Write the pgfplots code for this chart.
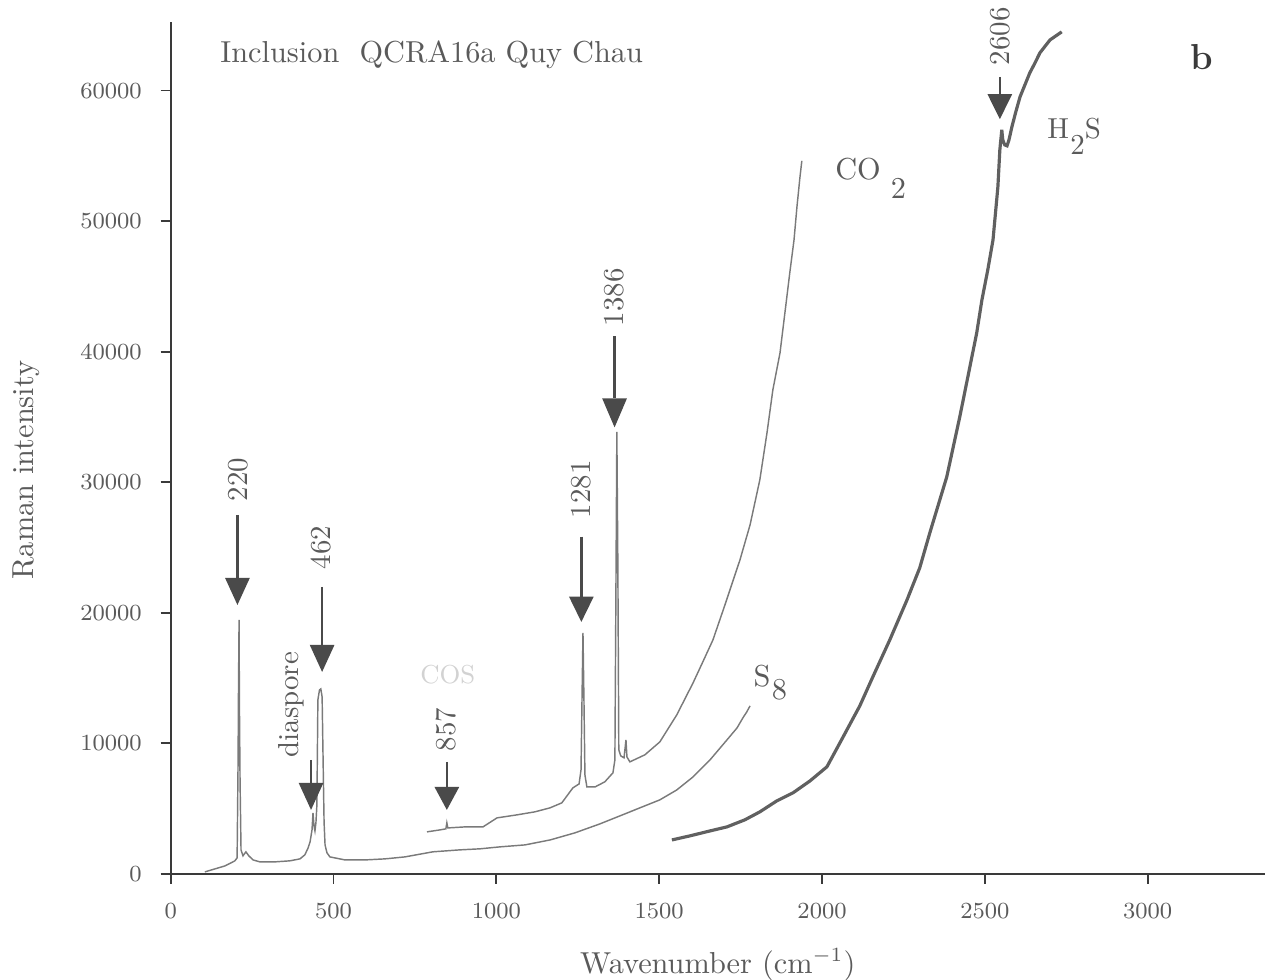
\documentclass[border=0pt]{standalone}
\usepackage{pgfplots}
\pgfplotsset{compat=1.18}
\definecolor{axcol}{HTML}{3A3A3A}
\definecolor{txtcol}{HTML}{5A5A5A}
\definecolor{speccol}{HTML}{7A7A7A}
\definecolor{h2scol}{HTML}{606060}
\definecolor{arrcol}{HTML}{4A4A4A}
\definecolor{coscol}{HTML}{D2D2D2}
\newcommand{\pkarrow}[4]{% x, line top, triangle base, tip
  \draw[arrcol, line width=0.8pt] (axis cs:#1,#2) -- (axis cs:#1,#3);
  \fill[arrcol] (axis cs:#1-38,#3) -- (axis cs:#1+38,#3) -- (axis cs:#1,#4) -- cycle;}
\begin{document}
\begin{tikzpicture}
\begin{axis}[
  name=ax,
  scale only axis,
  width=378.9pt, height=295pt,
  xmin=0, xmax=3360, ymin=0, ymax=65260,
  axis lines=left,
  axis line style={-, draw=axcol, line width=0.6pt},
  tick style={draw=axcol, line width=0.6pt},
  tick align=outside,
  major tick length=3.5pt,
  xtick={0,500,1000,1500,2000,2500,3000},
  ytick={0,10000,20000,30000,40000,50000,60000},
  scaled y ticks=false, scaled x ticks=false,
  /pgf/number format/.cd, 1000 sep={}, assume math mode=true,
  /pgfplots/.cd,
  tick label style={font=\footnotesize, text=txtcol},
  xticklabel style={yshift=-3pt},
  yticklabel style={xshift=-3pt},
  xlabel={Wavenumber (cm$^{-1}$)},
  ylabel={Raman intensity},
  xlabel style={font=\fontsize{10.5}{12}\selectfont, text=txtcol, at={(axis description cs:0.5,0)}, anchor=center, yshift=-31.5pt},
  ylabel style={font=\fontsize{10.5}{12}\selectfont, text=txtcol, at={(axis description cs:0,0.474)}, anchor=center, yshift=50pt},
  clip=false,
]
% low-range spectrum (220, diaspore, 462) continuing as S8 background
\addplot[color=speccol, line width=0.5pt] coordinates {
(105,153) (136,383) (167,613) (185,843) (197,996) (204,1226) (207,8730) (208,13330)
(210,19460) (211,13330) (213,7200) (216,1840) (222,1380) (231,1690) (240,1380)
(253,1070) (274,920) (320,920) (366,1000) (397,1150) (412,1460) (422,1990)
(428,2450) (434,3370) (437,4670) (440,3680) (443,3290) (446,3910) (449,5290)
(452,13330) (457,14090) (461,14170) (465,13560) (468,8730) (471,3980) (474,2220)
(480,1610) (489,1300) (535,1070) (597,1070) (658,1150) (719,1300) (805,1690)
(888,1840) (950,1920) (1011,2070) (1088,2220) (1165,2600) (1241,3140) (1318,3830)
(1379,4440) (1441,5060) (1502,5670) (1554,6430) (1604,7430) (1656,8730)
(1708,10260) (1739,11180) (1757,11950) (1769,12410) (1779,12870)
};
% CO2 region spectrum
\addplot[color=speccol, line width=0.5pt] coordinates {
(787,3220) (827,3370) (845,3450) (848,3910) (851,3520) (904,3600) (959,3600)
(1002,4290) (1063,4520) (1118,4750) (1165,5060) (1201,5440) (1235,6590)
(1254,6890) (1260,7970) (1263,13330) (1266,18460) (1269,13330) (1272,7580)
(1278,6660) (1303,6660) (1333,7050) (1358,7740) (1364,8730) (1367,20990)
(1370,33860) (1373,24050) (1376,9500) (1382,9040) (1392,8890) (1398,10260)
(1401,8960) (1410,8580) (1456,9120) (1502,10110) (1554,12180) (1604,14630)
(1634,16240) (1665,17920) (1702,20610) (1748,24050) (1779,26730) (1809,30180)
(1831,33780) (1849,37070) (1871,39910) (1886,42970) (1901,46040) (1914,48560)
(1923,51090) (1932,53310) (1938,54620)
};
% H2S region spectrum
\addplot[color=h2scol, line width=1.1pt] coordinates {
(1539,2600) (1594,2910) (1656,3290) (1708,3600) (1763,4140) (1809,4750)
(1861,5590) (1911,6210) (1963,7120) (2015,8200) (2055,10040) (2116,12870)
(2156,15090) (2208,17920) (2261,20990) (2300,23440) (2331,26120) (2383,30410)
(2423,35010) (2454,38840) (2475,41440) (2491,43970) (2509,46270) (2525,48560)
(2540,52620) (2546,55460) (2552,56990) (2555,56220) (2561,55840) (2568,55770)
(2574,56220) (2583,57220) (2595,58370) (2608,59520) (2623,60440) (2638,61360)
(2654,62120) (2669,62890) (2700,63880) (2736,64500)
};
% peak arrows
\pkarrow{205}{27500}{22670}{20600}
\pkarrow{465}{21980}{17540}{15470}
\pkarrow{431}{8730}{6970}{4900}
\pkarrow{848}{8580}{6660}{4900}
\pkarrow{1261}{25840}{21240}{19300}
\pkarrow{1363}{41170}{36420}{34200}
\pkarrow{2546}{61050}{59730}{57810}
% peak labels
\begin{scope}[every node/.style={text=txtcol, font=\fontsize{10}{12}\selectfont, rotate=90, anchor=west, inner sep=0pt}]
\node at (axis cs:207,28500) {220};
\node at (axis cs:463,23300) {462};
\node at (axis cs:370,8890) {diaspore};
\node at (axis cs:846,9350) {857};
\node at (axis cs:1261,27200) {1281};
\node at (axis cs:1363,41900) {1386};
\node at (axis cs:2546,61900) {2606};
\end{scope}
% species labels
\node[text=coscol, font=\fontsize{9}{11}\selectfont, anchor=center] at (axis cs:851,15240) {COS};
\node[text=txtcol, font=\fontsize{10.5}{12}\selectfont, anchor=base west, inner sep=0pt] at (axis cs:2039,53160) {CO\hspace{3.5pt}\raisebox{-6.5pt}{2}};
\node[text=txtcol, font=\fontsize{10.5}{12}\selectfont, anchor=base west, inner sep=0pt] at (axis cs:1788,14320) {S\hspace{0.5pt}\raisebox{-4.5pt}{8}};
\node[text=txtcol, font=\fontsize{10}{12}\selectfont, anchor=base west, inner sep=0pt] at (axis cs:2690,56300) {H\hspace{0.5pt}\raisebox{-5.5pt}{2}S};
\node[text=txtcol, font=\fontsize{10.5}{12}\selectfont, anchor=base west, inner sep=0pt] at (axis cs:151,62120) {Inclusion\ \ QCRA16a Quy Chau};
\node[text=axcol, font=\fontsize{12.5}{14}\selectfont\bfseries, anchor=base west, inner sep=0pt] at (axis cs:3130,61590) {b};
\end{axis}
\pgfresetboundingbox
\path ([shift={(-59.1pt,-36.7pt)}]ax.south west) rectangle ([shift={(2.1pt,7.6pt)}]ax.north east);
\end{tikzpicture}
\end{document}
